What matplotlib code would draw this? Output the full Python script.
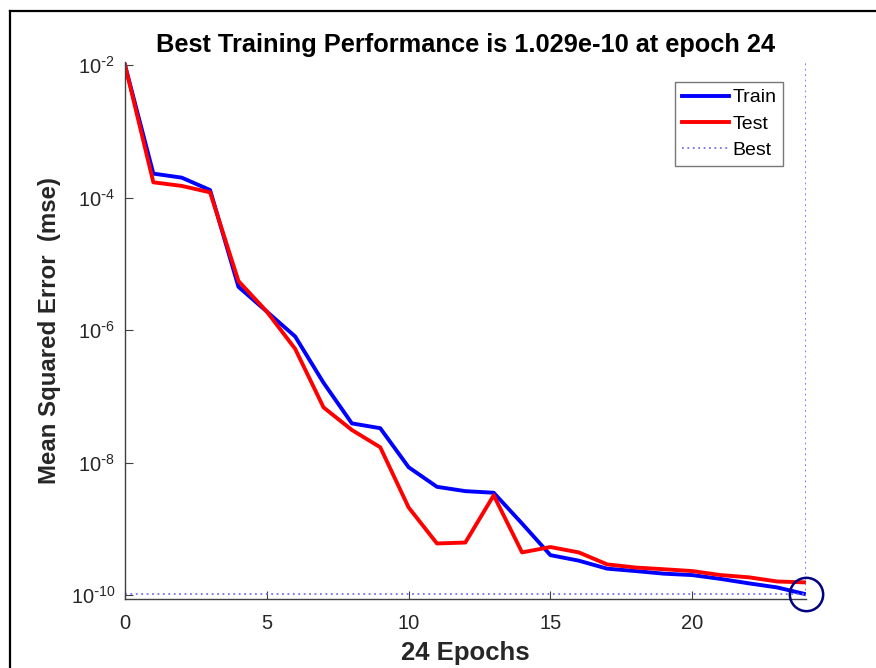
import matplotlib
matplotlib.use("Agg")
import matplotlib.pyplot as plt
import numpy as np
from matplotlib.lines import Line2D

plt.rcParams['font.family'] = ['Liberation Sans', 'DejaVu Sans']
plt.rcParams['mathtext.default'] = 'regular'

epochs = np.arange(0, 25)
train = [1e-2, 2.3e-4, 2.0e-4, 1.3e-4, 4.5e-6, 1.9e-6, 8e-7, 1.6e-7, 3.9e-8, 3.3e-8,
         8.5e-9, 4.3e-9, 3.7e-9, 3.5e-9, 1.2e-9, 4.0e-10, 3.3e-10, 2.5e-10, 2.3e-10,
         2.1e-10, 2.0e-10, 1.75e-10, 1.5e-10, 1.3e-10, 1.029e-10]
test = [1e-2, 1.7e-4, 1.5e-4, 1.2e-4, 5.5e-6, 1.9e-6, 5.2e-7, 6.8e-8, 3.1e-8, 1.7e-8,
        2.1e-9, 6.0e-10, 6.2e-10, 3.2e-9, 4.4e-10, 5.3e-10, 4.4e-10, 2.9e-10, 2.6e-10,
        2.45e-10, 2.3e-10, 2.0e-10, 1.85e-10, 1.6e-10, 1.55e-10]
best_epoch = 24
best_perf = 1.029e-10
yticks = [1e-10, 1e-8, 1e-6, 1e-4, 1e-2]
ytick_labels = [r'$10^{\text{-}10}$', r'$10^{\text{-}8}$', r'$10^{\text{-}6}$',
                r'$10^{\text{-}4}$', r'$10^{\text{-}2}$']
xticks = [0, 5, 10, 15, 20]

fig = plt.figure(figsize=(8.76, 6.68), dpi=100)
ax = fig.add_axes([0.1427, 0.104, 0.777, 0.803])

best_col = '#7373e6'
dot = (0, (1, 2.0))
ax.plot(epochs, train, color='blue', lw=2.8, label='Train')
ax.plot(epochs, test, color='red', lw=2.8, label='Test')
ax.plot([0, best_epoch], [best_perf, best_perf], ls=dot, color=best_col, lw=1.3, label='Best')
ax.plot([best_epoch, best_epoch], [1e-11, 1e-1], ls=dot, color=best_col, lw=1.3)
ax.plot([best_epoch], [best_perf], 'o', mfc='none', mec='#000080', ms=24, mew=1.8,
        clip_on=False, zorder=5)

ax.set_yscale('log')
ax.set_xlim(0, 24)
ax.set_ylim(10 ** -10.053, 10 ** -1.955)
ax.set_yticks(yticks)
ax.set_yticklabels(ytick_labels)
ax.minorticks_off()
ax.set_xticks(xticks)

for s in ['top', 'right']:
    ax.spines[s].set_visible(False)
for s in ['left', 'bottom']:
    ax.spines[s].set_color('#404040')
    ax.spines[s].set_linewidth(1.0)
ax.tick_params(direction='in', length=6, width=0.8, color='#404040',
               labelsize=14.5, labelcolor='#262626')
ax.tick_params(axis='x', pad=11)
ax.tick_params(axis='y', pad=7)

ax.set_title('Best Training Performance is 1.029e-10 at epoch 24',
             fontsize=18.3, fontweight='bold', pad=7)
ax.set_xlabel('24 Epochs', fontsize=18.5, fontweight='bold', color='#262626', labelpad=6)
ax.set_ylabel('Mean Squared Error  (mse)', fontsize=17.3, fontweight='bold', color='#262626',
              labelpad=7)

handles = [Line2D([], [], color='blue', lw=2.8), Line2D([], [], color='red', lw=2.8),
           Line2D([], [], color=best_col, lw=1.3, ls=dot)]
leg = ax.legend(handles, ['Train', 'Test', 'Best'], loc='upper right',
                bbox_to_anchor=(0.967, 0.963), fontsize=14, frameon=True,
                fancybox=False, handlelength=2.4, handletextpad=0.2,
                borderpad=0.35, labelspacing=0.45, borderaxespad=0)
leg.get_frame().set_edgecolor('#555555')
leg.get_frame().set_linewidth(1.0)

# window frame on top and left
fig.add_artist(Line2D([10 / 876, 1], [1 - 11 / 668, 1 - 11 / 668], color='black', lw=1.6,
                      transform=fig.transFigure))
fig.add_artist(Line2D([10 / 876, 10 / 876], [0, 1 - 11 / 668], color='black', lw=1.6,
                      transform=fig.transFigure))

fig.savefig('out.png', dpi=100)
